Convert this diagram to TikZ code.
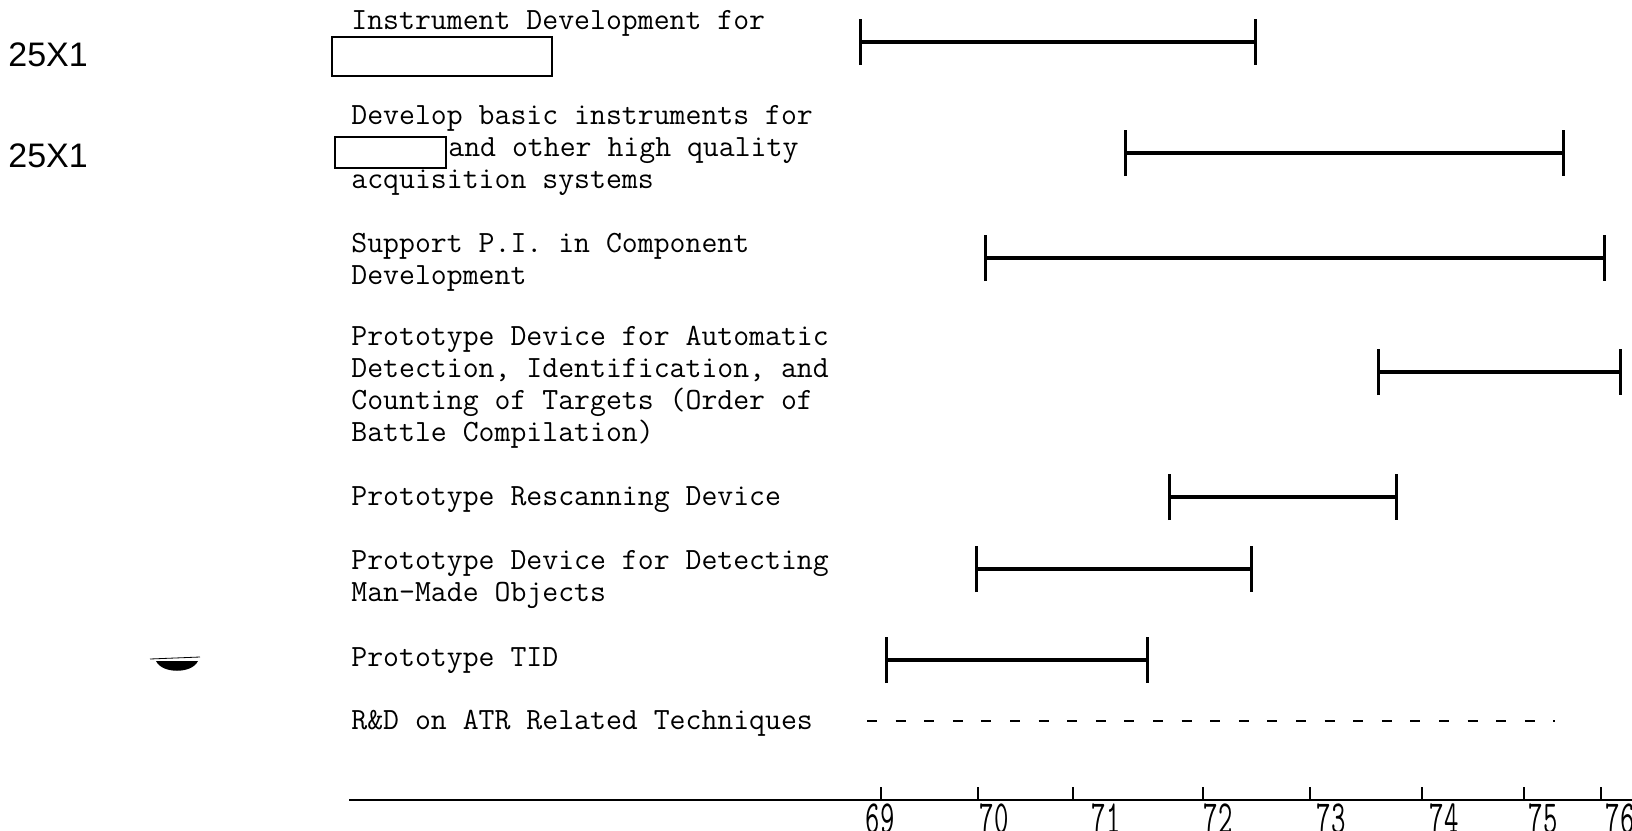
\documentclass[tikz,border=0pt]{standalone}
\usepackage{fontspec}
\newfontfamily\stampfont{Liberation Sans}
\usepackage{tikz}
\usetikzlibrary{arrows.meta}

\begin{document}
\begin{tikzpicture}[
  x=0.5pt, y=-0.5pt,
  item/.style={anchor=base west, inner sep=0pt, align=left, font=\fontsize{15.45}{15.85}\selectfont\ttfamily},
  blank/.style={draw, line width=1pt, inner sep=0pt, anchor=north west},
  stamp/.style={anchor=west, inner sep=0pt, font=\fontsize{17}{17}\selectfont\stampfont},
  span/.style={{Bar[width=23pt,line width=1.5pt]}-{Bar[width=23pt,line width=1.5pt]}, line width=1.6pt},
  plan/.style={line width=1.2pt, dash pattern=on 5pt off 9.3pt},
  axisline/.style={line width=1.2pt},
  yeartick/.style={line width=1pt},
  yearlbl/.style={anchor=north, inner sep=0pt, font=\fontsize{14}{14}\selectfont\ttfamily}
]
\useasboundingbox (0,0) rectangle (1632,830);

% left margin stamps
\node[stamp] (s1) at (8,55) {25X1};
\node[stamp] (s2) at (8,156) {25X1};
\fill (156,661) .. controls (162,674) and (192,674) .. (198,661) -- cycle;
\draw[line width=0.4pt] (150,659) -- (200,657);

% task labels (base = last line)
\node[item] (t1) at (351,29) {Instrument Development for};
\node[blank, minimum width=110pt, minimum height=19.5pt] (x1) at (331,36) {};
\node[item] (t2) at (351,188) {Develop basic instruments for\\\hspace*{48.5pt}and other high quality\\acquisition systems};
\node[blank, minimum width=55.5pt, minimum height=15.5pt] (x2) at (334,136) {};
\node[item] (t3) at (351,284) {Support P.I. in Component\\Development};
\node[item] (t4) at (351,441) {Prototype Device for Automatic\\Detection, Identification, and\\Counting of Targets (Order of\\Battle Compilation)};
\node[item] (t5) at (351,505) {Prototype Rescanning Device};
\node[item] (t6) at (351,601) {Prototype Device for Detecting\\Man-Made Objects};
\node[item] (t7) at (351,666) {Prototype TID};
\node[item] (t8) at (351,729) {R\&D on ATR Related Techniques};

% time spans
\coordinate (b1s) at (859,42);   \coordinate (b1e) at (1257,42);
\coordinate (b2s) at (1124,153); \coordinate (b2e) at (1565,153);
\coordinate (b3s) at (984,258);  \coordinate (b3e) at (1606,258);
\coordinate (b4s) at (1377,372); \coordinate (b4e) at (1622,372);
\coordinate (b5s) at (1168,497); \coordinate (b5e) at (1398,497);
\coordinate (b6s) at (975,569);  \coordinate (b6e) at (1253,569);
\coordinate (b7s) at (885,660);  \coordinate (b7e) at (1149,660);
\coordinate (b8s) at (867,721);  \coordinate (b8e) at (1555,721);
\draw[span] (b1s) -- (b1e);
\draw[span] (b2s) -- (b2e);
\draw[span] (b3s) -- (b3e);
\draw[span] (b4s) -- (b4e);
\draw[span] (b5s) -- (b5e);
\draw[span] (b6s) -- (b6e);
\draw[span] (b7s) -- (b7e);
\draw[plan] (b8s) -- (b8e);

% year axis
\coordinate (ax0) at (349,800);
\coordinate (ax1) at (1632,800);
\draw[axisline] (ax0) -- (ax1);
\foreach \yr/\tx/\lx in {69/881/880, 70/978/994, 71/1073/1106, 72/1203/1218, 73/1310/1331, 74/1422/1444, 75/1524/1543, 76/1601/1620}
{
  \draw[yeartick] (\tx,800) -- (\tx,787);
  \node[yearlbl] (y\yr) at (\lx,803) {\scalebox{1}[1.7]{\yr}};
}
\end{tikzpicture}
\end{document}
